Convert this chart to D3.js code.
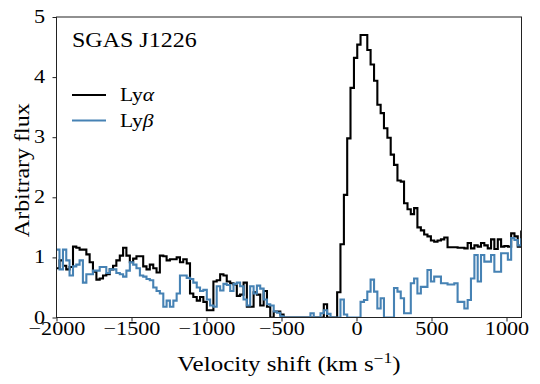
<!DOCTYPE html>
<html>
<head>
<meta charset="utf-8">
<script src="https://cdn.jsdelivr.net/npm/d3@7"></script>
<style>
  html, body { margin: 0; padding: 0; background: #fff; }
  svg { display: block; }
  text { font-family: "Liberation Serif", serif; fill: #000; }
</style>
</head>
<body>
<svg id="chart" width="540" height="384"></svg>
<script>
// ---- data ----
const title = "SGAS J1226";
const xTicks = [-2000, -1500, -1000, -500, 0, 500, 1000];
const yTicks = [0, 1, 2, 3, 4, 5];
const seriesNames = [["Ly", "α"], ["Ly", "β"]];

// bin edges (km/s), 141 edges for 140 bins
const velocityEdges = [
  -2002,-1980,-1957,-1935,-1913,-1890,-1868,-1846,-1824,-1801,
  -1779,-1757,-1734,-1712,-1690,-1668,-1645,-1623,-1601,-1578,
  -1556,-1534,-1511,-1489,-1467,-1444,-1422,-1400,-1378,-1355,
  -1333,-1311,-1288,-1266,-1244,-1221,-1199,-1177,-1155,-1132,
  -1110,-1088,-1065,-1043,-1021,-998,-976,-954,-932,-909,
  -887,-865,-842,-820,-798,-776,-753,-731,-709,-686,
  -664,-642,-619,-597,-575,-552,-530,-508,-486,-463,
  -441,-419,-396,-374,-352,-330,-307,-285,-263,-240,
  -218,-196,-173,-151,-129,-107,-84,-62,-40,-17,
  5,27,50,72,94,117,139,161,183,206,
  228,250,273,295,317,340,362,384,406,429,
  451,473,496,518,540,563,585,607,629,652,
  674,696,719,741,763,786,808,830,852,875,
  897,919,942,964,986,1009,1031,1053,1075,1098,
  1120
];

const lyaFlux = [
  0.82,0.95,0.86,0.80,0.84,1.18,1.16,1.13,1.13,1.05,
  0.92,0.76,0.63,0.65,0.70,0.72,0.80,0.86,0.95,1.03,
  1.16,1.03,0.92,0.98,1.02,1.02,0.85,0.80,0.88,0.82,
  0.75,1.03,1.02,0.95,0.97,0.97,1.00,0.92,0.97,0.90,
  0.40,0.34,0.28,0.34,0.26,0.12,0.12,0.60,0.62,0.72,
  0.70,0.60,0.57,0.55,0.36,0.38,0.58,0.18,0.18,0.42,
  0.38,0.20,0.44,0.18,0.00,0.10,0.10,0.05,0.00,0.00,
  0.00,0.00,0.00,0.00,0.00,0.00,0.00,0.00,0.00,0.00,
  0.22,0.00,0.00,0.00,0.42,1.22,2.04,2.98,3.82,4.32,
  4.54,4.70,4.70,4.45,4.21,3.94,3.54,3.40,3.15,2.99,
  2.71,2.54,2.28,2.26,1.90,1.80,1.72,1.82,1.50,1.45,
  1.38,1.35,1.28,1.26,1.28,1.30,1.33,1.17,1.17,1.17,
  1.16,1.16,1.15,1.24,1.15,1.20,1.18,1.24,1.20,1.15,
  1.30,1.14,1.30,1.18,1.19,1.18,1.40,1.35,1.18,1.43
];

const lybFlux = [
  1.13,0.80,1.13,0.95,0.70,0.85,0.88,0.95,0.58,0.72,
  0.72,0.78,0.78,0.84,0.84,0.74,0.80,0.80,0.74,0.72,
  0.68,0.78,0.92,0.88,0.82,0.70,0.68,0.64,0.62,0.50,
  0.44,0.40,0.18,0.28,0.18,0.28,0.40,0.70,0.70,0.66,
  0.64,0.58,0.50,0.44,0.46,0.30,0.20,0.18,0.52,0.45,
  0.56,0.54,0.44,0.56,0.58,0.52,0.30,0.20,0.52,0.40,
  0.53,0.48,0.30,0.22,0.20,0.10,0.08,0.02,0.00,0.00,
  0.00,0.00,0.00,0.00,0.00,0.00,0.07,0.00,0.00,0.07,
  0.12,0.06,0.00,0.00,0.00,0.30,0.05,0.00,0.00,0.00,
  0.00,0.26,0.29,0.43,0.63,0.43,0.15,0.32,0.00,0.00,
  0.00,0.49,0.43,0.32,0.07,0.07,0.57,0.65,0.40,0.51,
  0.51,0.79,0.60,0.68,0.68,0.57,0.57,0.55,0.55,0.57,
  0.26,0.26,0.15,0.29,0.65,1.04,0.60,1.04,0.93,0.93,
  1.04,0.76,0.76,1.07,1.07,0.96,1.32,1.29,1.20,1.30
];

const colors = ["#000000", "#4682b4"];

// ---- layout ----
const svg = d3.select("#chart");
const L = 56.5, R = 521.5, T = 17, B = 317.5;
const SX = 1.2; // horizontal widening of the serif glyphs

const x = d3.scaleLinear().domain([-2000, 1100]).range([L, R]);
const y = d3.scaleLinear().domain([0, 5]).range([B, T]);

svg.append("defs").append("clipPath").attr("id", "clip")
  .append("rect").attr("x", L).attr("y", T).attr("width", R - L).attr("height", B - T);

function stepPoints(flux) {
  const pts = flux.map((f, i) => [velocityEdges[i], f]);
  pts.push([velocityEdges[flux.length], flux[flux.length - 1]]);
  return pts;
}
const line = d3.line()
  .x(d => x(d[0])).y(d => y(d[1]))
  .curve(d3.curveStepAfter);

const plot = svg.append("g").attr("clip-path", "url(#clip)");
[lyaFlux, lybFlux].forEach((s, i) => {
  plot.append("path")
    .datum(stepPoints(s))
    .attr("d", line)
    .attr("fill", "none")
    .attr("stroke", colors[i])
    .attr("stroke-width", 2.1)
    .attr("stroke-linejoin", "miter");
});

// frame
svg.append("rect")
  .attr("x", L).attr("y", T).attr("width", R - L).attr("height", B - T)
  .attr("fill", "none").attr("stroke", "#222").attr("stroke-width", 1);

// axes
const fmt = d => (d < 0 ? "\u2212" + Math.abs(d) : String(d));
const xAxis = svg.append("g").attr("transform", `translate(0,${B})`)
  .call(d3.axisBottom(x).tickValues(xTicks).tickSize(4).tickFormat(fmt));
const yAxis = svg.append("g").attr("transform", `translate(${L},0)`)
  .call(d3.axisLeft(y).tickValues(yTicks).tickSize(4).tickFormat(fmt));
[xAxis, yAxis].forEach(a => {
  a.select(".domain").remove();
  a.attr("font-family", null).attr("font-size", null);
  a.selectAll(".tick line").attr("stroke", "#222");
  a.selectAll(".tick text")
    .attr("font-size", 18.5).attr("fill", "#000")
    .attr("transform", `scale(${SX},1)`);
});
xAxis.selectAll(".tick text").attr("y", 17.5).attr("dy", null);
yAxis.selectAll(".tick text").attr("x", -9.6).attr("dy", "0.3em");

// axis labels
const xl = svg.append("text")
  .attr("transform", `translate(${(L + R) / 2},371) scale(1.25,1)`)
  .attr("text-anchor", "middle").attr("font-size", 20);
xl.append("tspan").text("Velocity shift (km s");
xl.append("tspan").attr("font-size", 14).attr("dy", -8).text("\u22121");
xl.append("tspan").attr("dy", 8).text(")");

svg.append("text")
  .attr("transform", `translate(29,${(T + B) / 2 + 3}) rotate(-90) scale(${SX},1)`)
  .attr("text-anchor", "middle").attr("font-size", 20)
  .text("Arbitrary flux");

// title
svg.append("text").attr("transform", `translate(72,47) scale(${SX},1)`)
  .attr("font-size", 20).text(title);

// legend
seriesNames.forEach((name, i) => {
  const ly = 95 + i * 25.5;
  svg.append("line").attr("x1", 72).attr("x2", 106).attr("y1", ly).attr("y2", ly)
    .attr("stroke", colors[i]).attr("stroke-width", 2.2);
  const t = svg.append("text")
    .attr("transform", `translate(120,${ly + 6}) scale(${SX},1)`)
    .attr("font-size", 18);
  t.append("tspan").text(name[0]);
  t.append("tspan").attr("font-style", "italic").text(name[1]);
});
</script>
</body>
</html>
